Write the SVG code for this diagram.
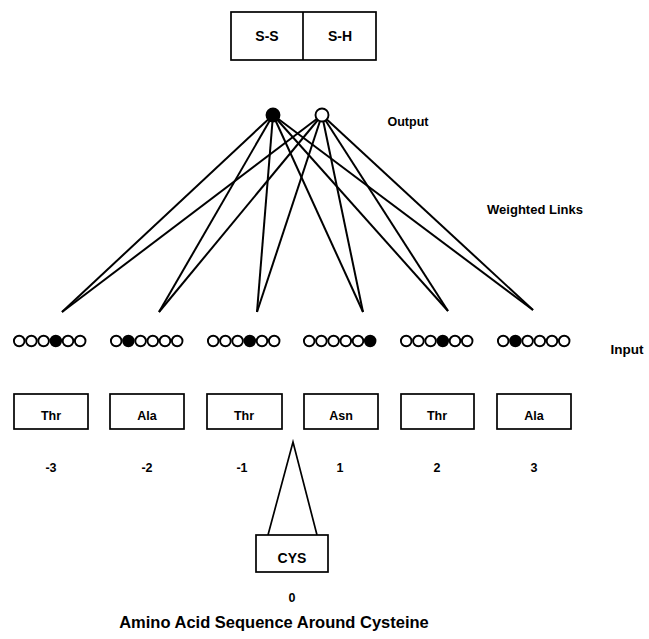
<svg xmlns="http://www.w3.org/2000/svg" width="649" height="639" viewBox="0 0 649 639">
<style>
text{font-family:"Liberation Sans",Arial,sans-serif;font-weight:bold;fill:#000;text-anchor:middle}
.box{fill:#fff;stroke:#000;stroke-width:1.7}
.ln{stroke:#000;stroke-width:2;fill:none}
.u{fill:#fff;stroke:#000;stroke-width:1.9}
.f{fill:#000;stroke:#000;stroke-width:1.9}
.lab{font-size:12.5px}
</style>
<defs>
<circle id="u" r="5.3" class="u"/>
<circle id="f" r="5.3" class="f"/>
</defs>
<rect width="649" height="639" fill="#fff"/>
<g id="connectors">
<g class="ln">
<line x1="273" y1="115" x2="62" y2="312"/>
<line x1="273" y1="115" x2="159" y2="312"/>
<line x1="273" y1="115" x2="257" y2="312"/>
<line x1="273" y1="115" x2="363" y2="312"/>
<line x1="273" y1="115" x2="448" y2="311"/>
<line x1="273" y1="115" x2="533" y2="310"/>
<line x1="322" y1="115" x2="62" y2="312"/>
<line x1="322" y1="115" x2="159" y2="312"/>
<line x1="322" y1="115" x2="257" y2="312"/>
<line x1="322" y1="115" x2="363" y2="312"/>
<line x1="322" y1="115" x2="448" y2="311"/>
<line x1="322" y1="115" x2="533" y2="310"/>
<polyline points="268,535 293,442 317,535" stroke-width="1.7"/>
</g>
</g>
<g id="outputbox">
<rect x="231" y="12" width="145" height="48" class="box"/>
<line x1="303" y1="12" x2="303" y2="60" stroke="#000" stroke-width="1.7"/>
<text x="267" y="41" font-size="14">S-S</text>
<text x="340" y="41" font-size="14">S-H</text>
</g>
<g id="output-nodes">
<circle cx="273" cy="115" r="6.5" class="f"/>
<circle cx="322" cy="115" r="6.5" class="u"/>
</g>
<g id="labels">
<text x="408" y="126" font-size="12.5">Output</text>
<text x="535" y="214" font-size="13">Weighted Links</text>
<text x="627" y="354" font-size="13.5">Input</text>
</g>
<g id="input-g1">
<use href="#u" x="19.2" y="341"/><use href="#u" x="31.4" y="341"/><use href="#u" x="43.6" y="341"/><use href="#f" x="55.8" y="341"/><use href="#u" x="68" y="341"/><use href="#u" x="80.2" y="341"/>
</g>
<g id="input-g2">
<use href="#u" x="116.2" y="341"/><use href="#f" x="128.4" y="341"/><use href="#u" x="140.6" y="341"/><use href="#u" x="152.8" y="341"/><use href="#u" x="165" y="341"/><use href="#u" x="177.2" y="341"/>
</g>
<g id="input-g3">
<use href="#u" x="213.2" y="341"/><use href="#u" x="225.4" y="341"/><use href="#u" x="237.6" y="341"/><use href="#f" x="249.8" y="341"/><use href="#u" x="262" y="341"/><use href="#u" x="274.2" y="341"/>
</g>
<g id="input-g4">
<use href="#u" x="309.2" y="341"/><use href="#u" x="321.4" y="341"/><use href="#u" x="333.6" y="341"/><use href="#u" x="345.8" y="341"/><use href="#u" x="358" y="341"/><use href="#f" x="370.2" y="341"/>
</g>
<g id="input-g5">
<use href="#u" x="406.2" y="341"/><use href="#u" x="418.4" y="341"/><use href="#u" x="430.6" y="341"/><use href="#f" x="442.8" y="341"/><use href="#u" x="455" y="341"/><use href="#u" x="467.2" y="341"/>
</g>
<g id="input-g6">
<use href="#u" x="503.2" y="341"/><use href="#f" x="515.4" y="341"/><use href="#u" x="527.6" y="341"/><use href="#u" x="539.8" y="341"/><use href="#u" x="552" y="341"/><use href="#u" x="564.2" y="341"/>
</g>
<g id="res-m3"><rect x="14" y="394" width="74" height="35" class="box"/><text x="51" y="420" class="lab">Thr</text><text x="51" y="472" class="lab">-3</text></g>
<g id="res-m2"><rect x="110" y="394" width="74" height="35" class="box"/><text x="147" y="420" class="lab">Ala</text><text x="147" y="472" class="lab">-2</text></g>
<g id="res-m1"><rect x="207" y="394" width="75" height="35" class="box"/><text x="244" y="420" class="lab">Thr</text><text x="242" y="472" class="lab">-1</text></g>
<g id="res-p1"><rect x="304" y="394" width="74" height="35" class="box"/><text x="341" y="420" class="lab">Asn</text><text x="340" y="472" class="lab">1</text></g>
<g id="res-p2"><rect x="401" y="394" width="73" height="35" class="box"/><text x="437" y="420" class="lab">Thr</text><text x="437" y="472" class="lab">2</text></g>
<g id="res-p3"><rect x="497" y="394" width="74" height="35" class="box"/><text x="534" y="420" class="lab">Ala</text><text x="534" y="472" class="lab">3</text></g>
<g id="res-0"><rect x="256" y="535" width="72" height="37" class="box"/><text x="292" y="563" font-size="14">CYS</text><text x="292" y="602" class="lab">0</text></g>
<text x="274" y="628" font-size="16.5">Amino Acid Sequence Around Cysteine</text>
</svg>
